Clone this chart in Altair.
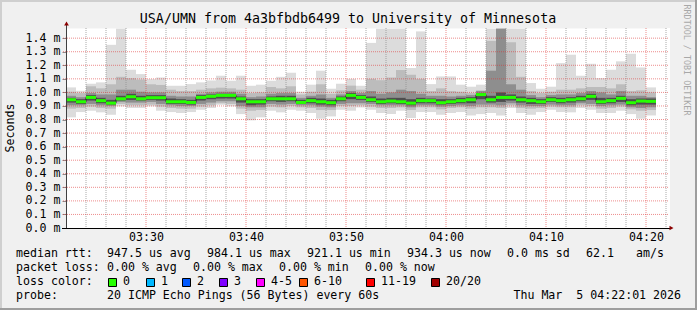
import json
import altair as alt
import pandas as pd

# ---------------- data ----------------
# one bar per minute starting 03:22; values in milliseconds
median = [0.946, 0.931, 0.963, 0.939, 0.921, 0.953, 0.968, 0.953, 0.961, 0.961, 0.931, 0.931,
          0.926, 0.963, 0.971, 0.978, 0.978, 0.953, 0.931, 0.931, 0.953, 0.953, 0.953, 0.926,
          0.939, 0.931, 0.924, 0.953, 0.978, 0.963, 0.946, 0.931, 0.936, 0.931, 0.921, 0.939,
          0.939, 0.924, 0.931, 0.939, 0.946, 0.984, 0.946, 0.963, 0.963, 0.946, 0.939, 0.931,
          0.946, 0.939, 0.946, 0.953, 0.971, 0.931, 0.939, 0.956, 0.924, 0.936, 0.934]
smoke_max = [1.037, 1.012, 1.064, 1.074, 1.351, 1.470, 1.167, 1.135, 1.098, 1.110, 1.049, 1.049,
             1.061, 1.074, 1.088, 1.123, 1.086, 1.123, 1.049, 1.057, 1.086, 1.115, 1.145, 1.005,
             1.057, 1.160, 1.027, 1.064, 1.100, 1.049, 1.365, 1.470, 1.470, 1.470, 1.180, 1.450,
             1.061, 1.118, 1.118, 1.057, 1.042, 1.057, 1.470, 1.470, 1.470, 1.470, 1.069, 1.027,
             1.042, 1.216, 1.278, 1.123, 1.211, 1.106, 1.167, 1.229, 1.285, 1.184, 1.037]
smoke_min = [0.816, 0.855, 0.865, 0.853, 0.835, 0.897, 0.885, 0.885, 0.897, 0.865, 0.855, 0.848,
             0.855, 0.872, 0.885, 0.909, 0.897, 0.840, 0.794, 0.816, 0.865, 0.853, 0.872, 0.865,
             0.848, 0.806, 0.823, 0.872, 0.865, 0.889, 0.872, 0.848, 0.840, 0.865, 0.811, 0.855,
             0.855, 0.835, 0.848, 0.855, 0.830, 0.840, 0.848, 0.830, 0.885, 0.848, 0.835, 0.855,
             0.872, 0.855, 0.853, 0.885, 0.872, 0.848, 0.848, 0.865, 0.840, 0.806, 0.830]
mid_hi = [1.005, 0.995, 1.045, 1.030, 1.060, 1.115, 1.105, 1.095, 1.060, 1.055, 1.020, 1.010,
          1.010, 1.020, 1.030, 1.035, 1.030, 1.020, 0.995, 1.000, 1.040, 1.030, 1.045, 0.985,
          1.005, 1.060, 0.990, 1.015, 1.050, 1.020, 1.100, 1.090, 1.110, 1.165, 1.130, 1.100,
          1.010, 1.030, 1.010, 1.005, 0.995, 1.015, 1.380, 1.470, 1.370, 1.115, 1.010, 0.995,
          1.005, 1.020, 1.020, 1.030, 1.040, 1.040, 1.030, 1.060, 1.010, 1.015, 1.000]
mid_lo = [0.880, 0.885, 0.895, 0.885, 0.880, 0.915, 0.905, 0.905, 0.910, 0.895, 0.885, 0.880,
          0.880, 0.895, 0.905, 0.920, 0.915, 0.880, 0.865, 0.870, 0.895, 0.890, 0.900, 0.890,
          0.885, 0.870, 0.870, 0.900, 0.900, 0.905, 0.895, 0.885, 0.885, 0.890, 0.870, 0.890,
          0.890, 0.875, 0.885, 0.890, 0.880, 0.890, 0.890, 0.885, 0.905, 0.885, 0.880, 0.885,
          0.895, 0.890, 0.890, 0.905, 0.900, 0.880, 0.885, 0.895, 0.875, 0.865, 0.870]
inner_hi = [0.975, 0.965, 0.995, 0.985, 0.985, 1.020, 1.020, 1.005, 1.000, 1.000, 0.975, 0.970,
            0.970, 0.990, 1.000, 1.005, 1.005, 0.990, 0.965, 0.970, 0.990, 0.995, 0.995, 0.960,
            0.975, 0.985, 0.960, 0.985, 1.010, 0.995, 1.010, 0.990, 1.000, 1.020, 1.010, 0.990,
            0.975, 0.975, 0.970, 0.975, 0.980, 1.010, 1.160, 1.470, 1.060, 1.020, 0.980, 0.965,
            0.980, 0.985, 0.985, 0.995, 1.010, 1.000, 0.985, 1.010, 0.975, 0.975, 0.965]
inner_lo = [0.905, 0.905, 0.915, 0.905, 0.900, 0.930, 0.925, 0.925, 0.930, 0.915, 0.905, 0.900,
            0.900, 0.915, 0.925, 0.935, 0.935, 0.900, 0.890, 0.890, 0.915, 0.910, 0.915, 0.905,
            0.905, 0.895, 0.890, 0.915, 0.920, 0.920, 0.915, 0.905, 0.905, 0.905, 0.890, 0.905,
            0.905, 0.895, 0.900, 0.905, 0.900, 0.910, 0.910, 0.905, 0.920, 0.905, 0.900, 0.900,
            0.910, 0.905, 0.905, 0.920, 0.915, 0.900, 0.905, 0.910, 0.890, 0.885, 0.890]
core_hi = [0.960, 0.950, 0.980, 0.960, 0.945, 0.975, 0.990, 0.975, 0.980, 0.980, 0.955, 0.950,
           0.945, 0.980, 0.985, 0.990, 0.990, 0.970, 0.950, 0.950, 0.970, 0.975, 0.975, 0.945,
           0.960, 0.955, 0.945, 0.970, 0.995, 0.980, 0.970, 0.955, 0.960, 0.960, 0.950, 0.960,
           0.955, 0.950, 0.950, 0.960, 0.965, 0.995, 0.975, 1.000, 0.985, 0.970, 0.960, 0.950,
           0.965, 0.960, 0.965, 0.975, 0.990, 0.960, 0.960, 0.975, 0.950, 0.955, 0.955]
core_lo = [0.925, 0.915, 0.940, 0.920, 0.910, 0.940, 0.945, 0.940, 0.945, 0.940, 0.915, 0.915,
           0.910, 0.940, 0.950, 0.955, 0.955, 0.925, 0.905, 0.910, 0.935, 0.930, 0.935, 0.915,
           0.920, 0.910, 0.905, 0.935, 0.950, 0.945, 0.930, 0.915, 0.920, 0.915, 0.905, 0.920,
           0.920, 0.910, 0.915, 0.920, 0.920, 0.950, 0.925, 0.930, 0.940, 0.925, 0.915, 0.915,
           0.930, 0.920, 0.925, 0.935, 0.945, 0.915, 0.920, 0.930, 0.905, 0.910, 0.910]

tick_minutes = [8, 18, 28, 38, 48, 58]
tick_labels = ["03:30", "03:40", "03:50", "04:00", "04:10", "04:20"]
y_ticks = [0.0, 0.1, 0.2, 0.3, 0.4, 0.5, 0.6, 0.7, 0.8, 0.9, 1.0, 1.1, 1.2, 1.3, 1.4]

title_text = "USA/UMN from 4a3bfbdb6499 to University of Minnesota"
rtt_stats = ["947.5 us avg", "984.1 us max", "921.1 us min", "934.3 us now", "0.0 ms sd", "62.1", "am/s"]
loss_stats = ["0.00 % avg", "0.00 % max", "0.00 % min", "0.00 % now"]
loss_labels = ["0", "1", "2", "3", "4-5", "6-10", "11-19", "20/20"]
loss_colors = ["#26ff00", "#00b8ff", "#0059ff", "#7e00ff", "#ff00ff", "#ff5500", "#ff0000", "#a10000"]
probe_text = "20 ICMP Echo Pings (56 Bytes) every 60s"
date_text = "Thu Mar\u00a0\u00a05 04:22:01 2026"

# ---------------- layout ----------------
PL, PT = 66, 28          # plot-area origin in page pixels
W, H = 600, 200
YMAX = 1.475
MONO = "DejaVu Sans Mono"
FS = 11.6

n = len(median)
df = pd.DataFrame({
    "i": list(range(n)), "i1": [k + 1 for k in range(n)],
    "median": median, "smax": smoke_max, "smin": smoke_min,
    "mhi": mid_hi, "mlo": mid_lo, "ihi": inner_hi, "ilo": inner_lo,
    "chi": core_hi, "clo": core_lo,
})
line_df = pd.DataFrame({"i": list(range(n)) + [n], "median": median + [median[-1]]})

xs = alt.Scale(domain=[0, 60], nice=False, zero=False)
ys = alt.Scale(domain=[0, YMAX], nice=False, zero=False, clamp=True)

lab_js = json.dumps(tick_labels)
xaxis = alt.Axis(values=tick_minutes, labelExpr=f"{lab_js}[round((datum.value-8)/10)]",
                 grid=False, domain=False, ticks=False, labelPadding=3, title=None,
                 labelFont=MONO, labelFontSize=FS, labelColor="#000000", labelFontWeight="normal")
yaxis = alt.Axis(values=y_ticks, labelExpr="format(datum.value, '.1f') + ' m'",
                 grid=False, domain=False, ticks=True, tickSize=4, tickColor="#8c8c8c",
                 labelPadding=2, title=None, labelFont=MONO, labelFontSize=FS,
                 labelColor="#000000", labelFontWeight="normal")

X = alt.X("i:Q", scale=xs, axis=xaxis)


def band(lo, hi, color):
    return alt.Chart(df).mark_rect(color=color, strokeWidth=0).encode(
        x=X, x2="i1:Q",
        y=alt.Y(f"{lo}:Q", scale=ys, axis=yaxis), y2=f"{hi}:Q")


one = pd.DataFrame({"a": [0]})


def px_rect(x0, x1, y0, y1, color, stroke=None):
    kw = dict(fill=color)
    if stroke:
        kw.update(stroke=stroke, strokeWidth=1)
    else:
        kw.update(strokeWidth=0)
    return alt.Chart(one).mark_rect(**kw).encode(
        x=alt.value(x0 - PL), x2=alt.value(x1 - PL),
        y=alt.value(y0 - PT), y2=alt.value(y1 - PT))


def txt(s, x, y, align="left", size=FS, color="#000000", angle=0):
    return alt.Chart(one).mark_text(text=s, align=align, baseline="middle", font=MONO,
                                    fontSize=size, color=color, angle=angle).encode(
        x=alt.value(x - PL), y=alt.value(y - PT))


layers = []
# canvas extension on the right
layers.append(px_rect(666, 670, 28, 228, "#ffffff"))
# smoke
layers.append(band("smin", "smax", "#dcdcdc"))
layers.append(band("mlo", "mhi", "#bcbcbc"))
layers.append(band("ilo", "ihi", "#8e8e8e"))
layers.append(band("clo", "chi", "#4e4e4e"))

# grid
minor = [m for m in range(2, 61, 2) if (m - 8) % 10 != 0]
layers.append(alt.Chart(pd.DataFrame({"m": minor})).mark_rule(
    color="#8f8f8f", opacity=0.75, strokeDash=[1, 1], strokeWidth=1).encode(
    x=alt.X("m:Q", scale=xs, axis=xaxis)))
layers.append(alt.Chart(pd.DataFrame({"m": tick_minutes})).mark_rule(
    color="#de3030", opacity=0.55, strokeDash=[1, 1], strokeWidth=1).encode(
    x=alt.X("m:Q", scale=xs, axis=xaxis)))
layers.append(alt.Chart(pd.DataFrame({"v": y_ticks[1:]})).mark_rule(
    color="#de3030", opacity=0.55, strokeDash=[1, 1], strokeWidth=1).encode(
    y=alt.Y("v:Q", scale=ys, axis=yaxis), x=alt.value(-3), x2=alt.value(602)))

# median
layers.append(alt.Chart(line_df).mark_line(interpolate="step-after", color="#202020",
                                           strokeWidth=1).encode(
    x=X, y=alt.Y("median:Q", scale=ys, axis=yaxis)))
layers.append(alt.Chart(df).mark_rule(color=loss_colors[0], strokeWidth=3, strokeCap="butt").encode(
    x=X, x2="i1:Q", y=alt.Y("median:Q", scale=ys, axis=yaxis)))

# axes lines and arrows
layers.append(alt.Chart(one).mark_rule(color="#404040", strokeWidth=1).encode(
    x=alt.value(0.5), y=alt.value(-5), y2=alt.value(200)))
layers.append(alt.Chart(one).mark_rule(color="#000000", strokeWidth=1).encode(
    x=alt.value(-4), x2=alt.value(604), y=alt.value(200.5)))
layers.append(alt.Chart(one).mark_point(shape="triangle-up", filled=True, size=22,
                                        color="#8b0000", opacity=1).encode(
    x=alt.value(0.5), y=alt.value(-4.5)))
layers.append(alt.Chart(one).mark_point(shape="triangle-right", filled=True, size=22,
                                        color="#8b0000", opacity=1).encode(
    x=alt.value(605.5), y=alt.value(200)))

# page frame shading
layers.append(px_rect(0, 697, 0, 2, "#cfcfcf"))
layers.append(px_rect(0, 2, 0, 310, "#cfcfcf"))
layers.append(px_rect(0, 697, 308, 310, "#9e9e9e"))
layers.append(px_rect(695, 697, 0, 310, "#9e9e9e"))

# texts
layers.append(txt(title_text, 348, 19, align="center", size=13.3))
layers.append(txt("Seconds", 11, 128, align="center", angle=270))
layers.append(txt("RRDTOOL / TOBI OETIKER", 687, 60, align="center", size=8.4,
                  color="#a8a8a8", angle=90))

y1, y2, y3, y4 = 254, 268, 282, 296
layers.append(txt("median rtt:", 16, y1))
for s, x in zip(rtt_stats, [107, 207, 307, 407, 507, 586, 636]):
    layers.append(txt(s, x, y1))
layers.append(txt("packet loss:", 16, y2))
for s, x in zip(loss_stats, [107, 193, 279, 365]):
    layers.append(txt(s, x, y2))
layers.append(txt("loss color:", 16, y3))
for lab, col, x in zip(loss_labels, loss_colors, [108, 146, 182, 219, 256, 299, 366, 431]):
    layers.append(px_rect(x + 0.5, x + 8.5, y3 - 3.5, y3 + 4.5, col, stroke="#000000"))
    layers.append(txt(lab, x + 15, y3))
layers.append(txt("probe:", 16, y4))
layers.append(txt(probe_text, 107, y4))
layers.append(txt(date_text, 681, y4, align="right"))

chart = alt.layer(*layers).properties(
    width=W, height=H,
    padding={"left": PL, "top": PT, "right": 697 - PL - W, "bottom": 310 - PT - H},
    autosize=alt.AutoSizeParams(type="none"),
    background="#f0f0f0",
).configure_view(fill="#ffffff", stroke="transparent")

chart.save("out.html", embed_options={"renderer": "svg", "actions": False})
